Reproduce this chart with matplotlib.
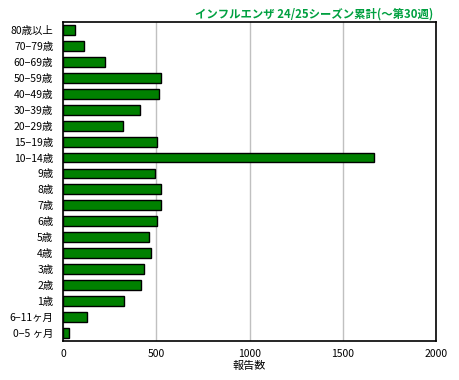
import matplotlib
matplotlib.use("Agg")
import matplotlib.pyplot as plt

plt.rcParams['font.family'] = ['Noto Sans CJK JP', 'DejaVu Sans']

ages = ["80歳以上", "70−79歳", "60−69歳", "50−59歳", "40−49歳", "30−39歳", "20−29歳",
        "15−19歳", "10−14歳", "9歳", "8歳", "7歳", "6歳", "5歳", "4歳", "3歳", "2歳",
        "1歳", "6−11ヶ月", "0−5 ヶ月"]
counts = [65, 112, 224, 527, 516, 412, 321, 503, 1665, 492, 527, 525, 503, 460, 471,
          433, 417, 326, 128, 31]

fig = plt.figure(figsize=(4.6, 3.8), dpi=100)
ax = fig.add_axes([0.137, 0.103, 0.811, 0.839])

pos = list(range(len(ages)))
ax.barh(pos, counts, height=0.62, color="#008000", edgecolor="black", linewidth=1, zorder=3)

ax.set_ylim(len(ages) - 0.5, -0.5)
ax.set_yticks(pos)
ax.set_yticklabels(ages, fontsize=7.5)
ax.set_xlim(0, 2000)
ax.set_xticks([0, 500, 1000, 1500, 2000])
ax.tick_params(axis="x", labelsize=7.5, length=0, pad=6)
ax.tick_params(axis="y", length=0, pad=7)
ax.grid(axis="x", color="#c0c0c0", linewidth=1, zorder=0)
ax.set_xlabel("報告数", fontsize=8, labelpad=1)
for s in ax.spines.values():
    s.set_linewidth(1.2)

fig.text(0.942, 0.98, "インフルエンザ 24/25シーズン累計(〜第30週)", color="#00a040",
         fontsize=8.2, fontweight="bold", ha="right", va="top")

fig.savefig("out.png", dpi=100)
